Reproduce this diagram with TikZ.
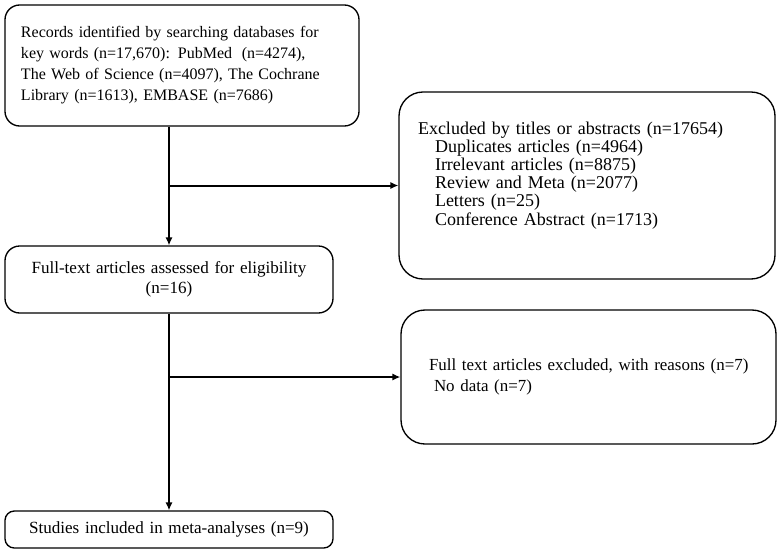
\documentclass[tikz,border=0pt]{standalone}
\usepackage{fontspec}
\setmainfont{Liberation Serif}
\usetikzlibrary{arrows.meta,positioning}

\tikzset{every picture/.style={line width=0.75pt}}
\tikzset{
  flowbox/.style={draw, rounded corners=11pt, line width=1pt, inner ysep=0pt,
    font=\fontsize{12.8}{15.4}\selectfont},
  flowarrow/.style={line width=1.5pt, -{Latex[length=6pt,width=5.5pt]}}
}

\begin{document}
\begin{tikzpicture}[x=0.75pt,y=0.75pt,yscale=-1,xscale=1]
	%set diagram to 780 x 553
	\useasboundingbox (0,0) rectangle (780,553);

	%Shape: Rounded Rectangle [records]
	\node (records) [flowbox, inner xsep=12pt, text width=241.5pt, minimum height=90.75pt, align=left,
	  font=\fontsize{12}{15.75}\selectfont] at (182,65.5)
	{\mbox{Records identified by searching databases for}\\
	 \mbox{key words (n=17,670): PubMed\hspace{0.6em}(n=4274),}\\
	 \mbox{The Web of Science (n=4097), The Cochrane}\\
	 \mbox{Library (n=1613), EMBASE (n=7686)}};
	%Shape: Rounded Rectangle [excluded by titles]
	\node (exclA) [flowbox, rounded corners=18pt, inner xsep=14.25pt, text width=253.5pt, minimum height=140.25pt, align=left,
	  font=\fontsize{13.5}{13.6}\selectfont] at (587,185.5)
	{\mbox{Excluded by titles or abstracts (n=17654)}\\
	 \hspace*{12.75pt}Duplicates articles (n=4964)\\
	 \hspace*{12.75pt}Irrelevant articles (n=8875)\\
	 \hspace*{12.75pt}Review and Meta (n=2077)\\
	 \hspace*{12.75pt}Letters (n=25)\\
	 \hspace*{12.75pt}Conference Abstract (n=1713)\\[4.4pt]\mbox{}};
	%Shape: Rounded Rectangle [full text]
	\node (fulltext) [flowbox, inner xsep=0pt, text width=246pt, minimum height=50.25pt, align=center] at (169,279.5)
	{Full-text articles assessed for eligibility\\(n=16)};
	%Shape: Rounded Rectangle [excluded full text]
	\node (exclB) [flowbox, rounded corners=18pt, inner xsep=21pt, text width=239.25pt, minimum height=100.5pt, align=left,
	  font=\fontsize{12.7}{15.75}\selectfont] at (588.5,377)
	{\mbox{Full text articles excluded, with reasons (n=7)}\\
	 \hspace*{3.75pt}No data (n=7)};
	%Shape: Rounded Rectangle [included]
	\node (included) [flowbox, rounded corners=7pt, inner xsep=0pt, text width=246pt, minimum height=27.75pt, align=center] at (169,529.5)
	{Studies included in meta-analyses (n=9)};

	% Arrows
	\draw [flowarrow] (records.south -| fulltext.north) -- (fulltext.north);
	\draw [flowarrow] (exclA.west -| fulltext.north) -- (exclA.west);
	\draw [flowarrow] (fulltext.south) -- (included.north);
	\draw [flowarrow] (exclB.west -| fulltext.south) -- (exclB.west);

\end{tikzpicture}
\end{document}
